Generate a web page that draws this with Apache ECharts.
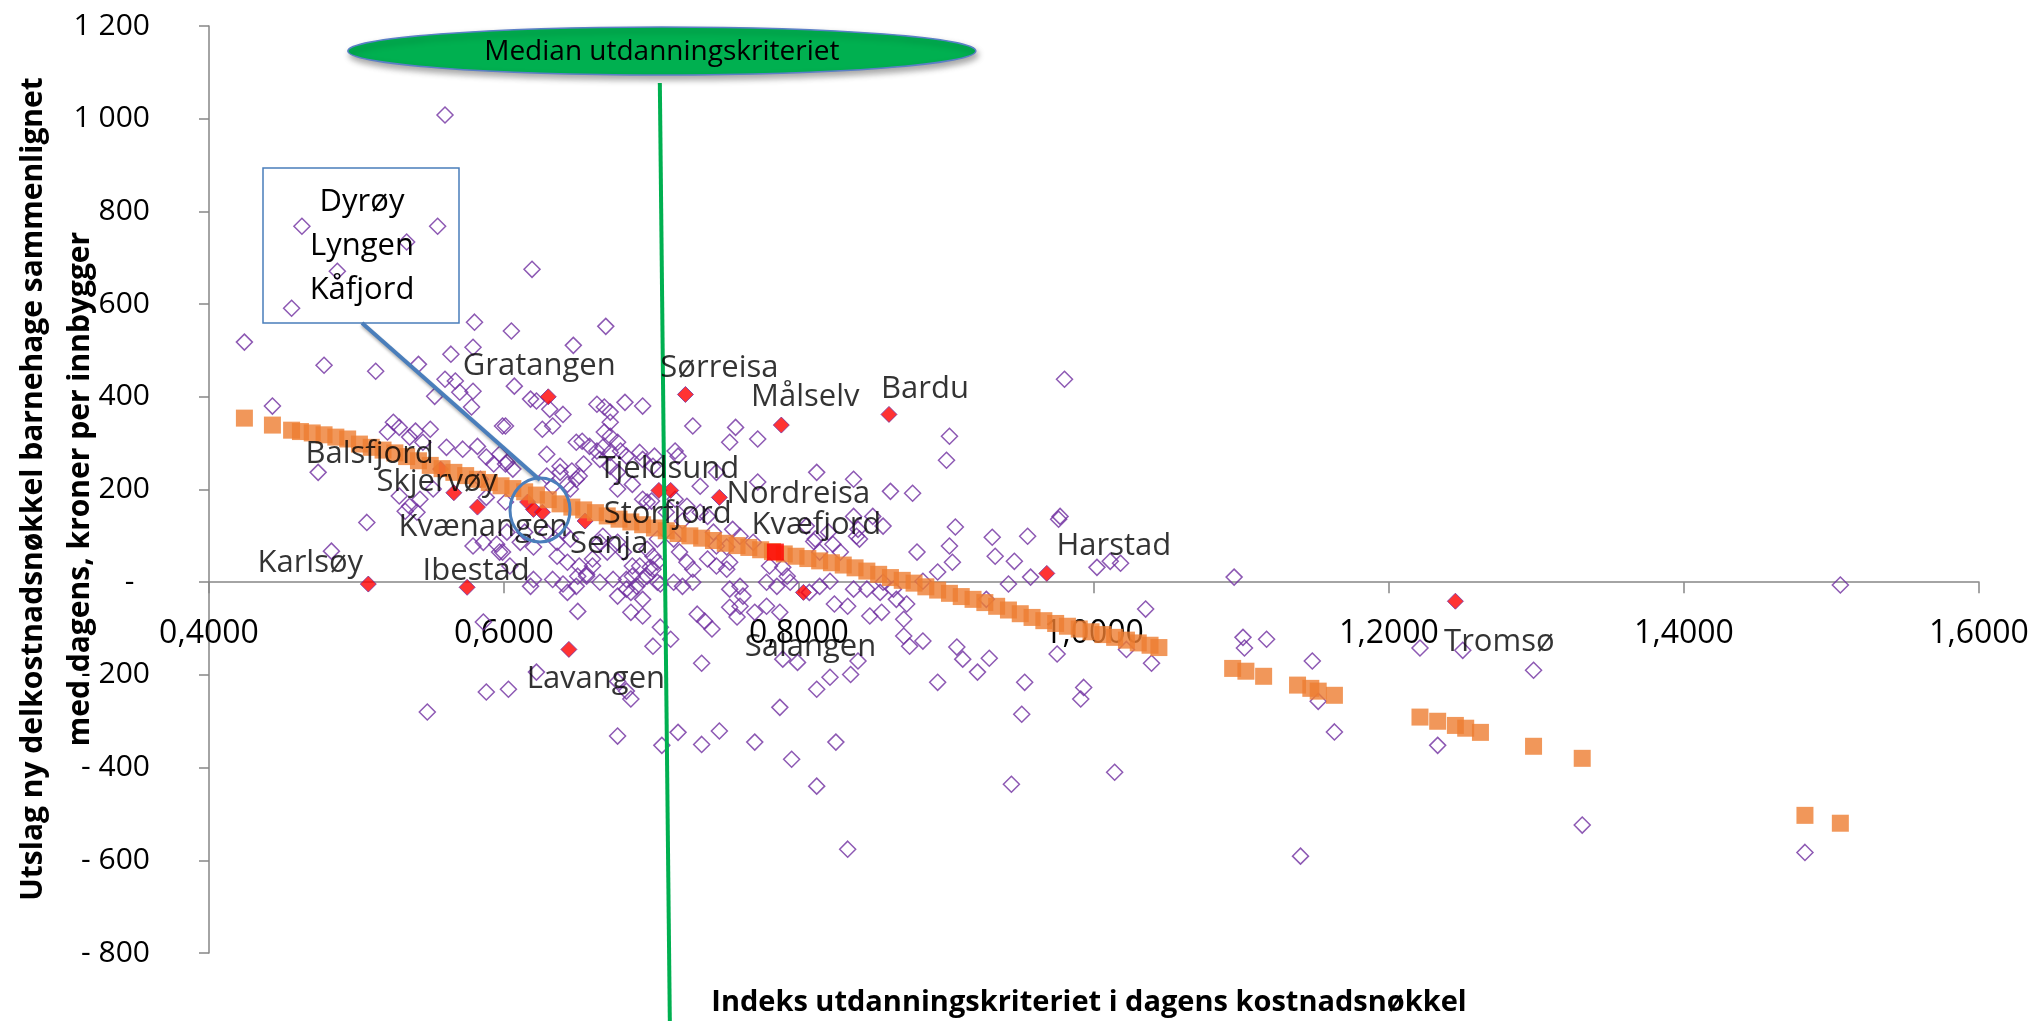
<!DOCTYPE html>
<html>
<head>
<meta charset="utf-8">
<title>Utdanningskriteriet</title>
<script src="https://cdn.jsdelivr.net/npm/echarts@6/dist/echarts.min.js"></script>
<style>
  html, body { margin: 0; padding: 0; background: #fff; }
  #chart { width: 2029px; height: 1021px; }
</style>
</head>
<body>
<div id="chart"></div>
<script>
// alle kommuner: [indeks utdanningskriteriet, utslag kr per innbygger]
const allMunicipalities = [
  [0.560,1008],[0.463,768],[0.555,768],[0.534,734],[0.487,671],[0.619,675],[0.456,591],[0.424,518],[0.580,561],[0.605,542],
  [0.669,552],[0.647,511],[0.579,507],[0.564,492],[0.478,468],[0.513,455],[0.542,470],[0.607,423],[0.560,438],[0.567,434],
  [0.570,410],[0.579,412],[0.553,401],[0.578,378],[0.443,380],[0.622,391],[0.631,373],[0.640,362],[0.663,384],[0.668,378],
  [0.672,367],[0.682,388],[0.694,380],
  [0.626,330],[0.633,337],[0.601,337],[0.629,276],[0.649,302],[0.653,304],[0.658,293],[0.663,283],[0.667,291],[0.672,280],
  [0.677,302],[0.679,283],[0.683,272],[0.601,255],[0.606,244],[0.638,237],[0.646,240],[0.651,229],[0.702,272],[0.643,211],
  [0.687,211],[0.694,179],[0.697,173],[0.700,175],[0.601,173],[0.672,315],[0.692,280],
  [0.728,337],[0.757,334],[0.753,302],[0.772,309],[0.716,283],[0.718,272],[0.744,237],[0.772,216],[0.812,237],[0.837,222],
  [0.862,196],[0.733,207],[0.716,179],[0.724,164],[0.733,151],[0.738,142],[0.710,151],[0.721,132],[0.820,108],[0.823,82],
  [0.805,121],[0.811,93],[0.814,65],[0.841,93],[0.840,114],[0.850,142],[0.857,121],[0.837,142],[0.755,114],[0.760,99],
  [0.769,86],[0.742,108],[0.744,78],[0.751,76],[0.753,43],[0.715,93],[0.719,65],[0.724,43],[0.728,28],[0.738,50],
  [0.744,35],[0.751,28],[0.778,0],[0.785,-9],[0.794,0],[0.792,13],[0.753,-15],[0.760,-9],[0.728,0],[0.715,0],
  [0.721,-9],[0.807,-22],[0.814,-9],[0.857,0],[0.864,-15],[0.837,-15],
  [0.697,71],[0.701,56],[0.704,43],[0.692,35],[0.687,13],[0.697,13],[0.704,0],[0.690,-9],[0.683,-15],[0.665,86],
  [0.670,65],[0.660,35],[0.656,13],[0.665,0],[0.649,-9],[0.602,108],[0.599,65],[0.604,35],[0.618,-9],[0.629,108],
  [0.636,86],[0.620,76],
  [0.474,237],[0.507,129],[0.483,67],[0.525,345],[0.529,334],[0.521,324],[0.536,313],[0.540,326],[0.550,330],[0.545,302],
  [0.561,291],[0.572,287],[0.582,293],[0.588,270],[0.597,276],[0.593,255],[0.602,259],[0.599,337],[0.618,395],
  [0.529,186],[0.536,164],[0.541,151],[0.533,153],[0.543,179],[0.552,201],[0.588,183],[0.584,222],[0.579,78],[0.586,86],
  [0.595,82],[0.597,65],[0.611,86],[0.614,108],[0.620,6],[0.633,6],[0.640,-4],[0.643,-22],[0.650,13],[0.656,17],
  [0.636,56],[0.643,43],[0.651,35],[0.660,50],[0.645,93],[0.640,110],[0.674,6],[0.683,6],[0.687,35],[0.677,-30],
  [0.686,-22],[0.694,-37],[0.650,-63],[0.686,-65],[0.694,-73],[0.701,-138],[0.681,65],[0.701,28],[0.588,-237],[0.603,-231],
  [0.548,-280],[0.622,-194],[0.686,-252],[0.677,-214],[0.683,-235],
  [0.672,345],[0.668,324],[0.665,265],[0.654,255],[0.672,250],[0.677,237],[0.694,265],[0.701,250],[0.629,229],[0.638,250],
  [0.649,222],[0.633,207],[0.645,201],[0.677,201],[0.667,99],[0.677,86],[0.704,93],
  [0.906,119],[0.931,97],[0.955,99],[0.976,136],[0.880,65],[0.902,78],[0.904,43],[0.933,56],[0.946,45],[0.894,22],
  [0.957,11],[0.942,-4],[1.002,32],[0.828,65],[0.810,88],[0.839,99],[0.699,32],[0.694,6],[0.706,-4],[0.780,35],
  [0.789,32],[0.821,2],[0.846,-15],[0.855,-22],[0.866,-37],[0.873,-47],[0.884,2],[0.927,-37],[0.762,-30],[0.760,-52],
  [0.753,-54],[0.770,-65],[0.778,-52],[0.787,-65],[0.758,-75],[0.731,-69],[0.736,-84],[0.741,-101],[0.824,-47],[0.833,-52],
  [0.848,-73],[0.856,-65],[0.871,-80],[0.706,-97],[0.713,-123],[0.871,-116],[0.875,-138],[0.884,-127],[0.789,-166],[0.799,-173],
  [0.840,-170],[0.734,-175],[0.821,-205],[0.835,-199],[0.812,-231],[0.907,-140],[0.911,-166],[0.921,-194],[0.929,-164],[0.894,-216],
  [0.953,-216],[0.975,-155],[0.993,-227],[0.991,-252],[0.951,-285],[0.787,-270],[0.718,-324],[0.746,-321],[0.707,-352],[0.734,-350],
  [0.770,-345],[0.825,-345],[0.795,-382],[0.812,-440],[0.833,-576],[0.944,-436],
  [0.980,438],[0.902,315],[0.900,263],[0.877,192],[0.977,142],[1.011,45],[1.018,41],[1.095,11],[1.035,-58],[1.039,-175],
  [1.101,-119],[1.102,-142],[1.117,-123],[1.022,-145],[1.014,-410],
  [1.506,-6],[1.221,-142],[1.250,-147],[1.148,-170],[1.298,-190],[1.152,-257],[1.163,-323],[1.233,-352],[1.331,-524],[1.482,-583],
  [1.140,-591],[0.586,-86],[0.677,-332]
];

// utslag av utdanningskriteriet alene (oransje)
const criterionEffect = [
  [0.424,354],[0.443,339],[0.456,328],[0.462,325],[0.470,322],[0.478,318],[0.486,313],[0.494,309],[0.502,298],[0.510,291],
  [0.518,285],[0.526,279],[0.534,271],[0.542,262],[0.550,252],[0.558,245],[0.566,237],[0.574,230],[0.582,222],[0.590,215],
  [0.598,208],[0.606,202],[0.614,195],[0.622,188],[0.630,178],[0.638,169],[0.646,162],[0.654,156],[0.662,150],[0.670,143],
  [0.678,136],[0.686,130],[0.694,124],[0.702,117],[0.710,111],[0.718,105],[0.726,100],[0.734,95],[0.742,90],[0.750,84],
  [0.758,79],[0.766,75],[0.774,70],[0.782,66],[0.790,61],[0.798,56],[0.806,51],[0.814,46],[0.822,42],[0.830,37],
  [0.838,31],[0.846,24],[0.854,17],[0.862,10],[0.870,4],[0.878,-2],[0.886,-10],[0.894,-17],[0.902,-24],[0.910,-31],
  [0.918,-37],[0.926,-44],[0.934,-52],[0.942,-60],[0.950,-68],[0.958,-76],[0.966,-83],[0.974,-89],[0.982,-95],[0.990,-101],
  [0.998,-107],[1.006,-113],[1.014,-119],[1.022,-125],[1.030,-131],[1.038,-136],[1.044,-141],
  [1.094,-186],[1.103,-192],[1.115,-203],[1.138,-222],[1.147,-229],[1.152,-235],[1.163,-244],[1.221,-291],[1.233,-300],[1.245,-309],
  [1.252,-315],[1.262,-324],[1.298,-354],[1.331,-380],[1.482,-503],[1.506,-520]
];

// Troms-kommuner (røde)
const tromsNames = ['Karlsøy','Ibestad','Lavangen','Gratangen','Sørreisa','Målselv','Bardu','Tjeldsund','Storfjord',
  'Nordreisa','Salangen','Harstad','Tromsø','Senja','Skjervøy','Kvænangen','Balsfjord','Dyrøy','Lyngen','Kåfjord'];
const tromsValues = [
  [0.508,-4],[0.575,-11],[0.644,-145],[0.630,400],[0.723,405],[0.788,339],[0.861,362],[0.705,198],[0.713,198],
  [0.746,183],[0.803,-22],[0.968,19],[1.245,-41],[0.655,132],[0.566,193],[0.582,162],[0.557,244],[0.616,173],[0.620,157],[0.626,151]
];
const kvaefjordName = 'Kvæfjord';
const kvaefjordValue = [0.784, 65];

const medianIndex = 0.707;
const medianText = 'Median utdanningskriteriet';
const calloutNames = ['Dyrøy', 'Lyngen', 'Kåfjord'];
const yAxisTitle = 'Utslag ny delkostnadsnøkkel barnehage sammenlignet\nmed dagens, kroner per innbygger';
const xAxisTitle = 'Indeks utdanningskriteriet i dagens kostnadsnøkkel';

const Y_MIN = -800;
const Y_MAX = 1200;

// plassering av navnelapper i forhold til punktet (px)
const labelOffset = {
  'Karlsøy': [-58, -21], 'Ibestad': [9, -16], 'Lavangen': [27, 30], 'Gratangen': [-9, -31],
  'Sørreisa': [34, -26], 'Målselv': [24, -28], 'Bardu': [36, -25], 'Tjeldsund': [10, -21],
  'Storfjord': [-3, 24], 'Nordreisa': [79, -3], 'Salangen': [7, 55], 'Harstad': [67, -27],
  'Tromsø': [44, 41], 'Senja': [24, 23], 'Skjervøy': [-17, -11], 'Kvænangen': [6, 20],
  'Balsfjord': [-71, -15], 'Kvæfjord': [41, -27]
};

const FONT = '"Open Sans", "Noto Sans", sans-serif';
const AXIS_GREY = '#868686';
const BLUE = '#4A7EBB';
const GRID = { left: 209, right: 50, top: 26, bottom: 68 };
const gridHeight = 1021 - GRID.top - GRID.bottom;
// x-aksen skal krysse y-aksen i 0
const xAxisOffset = -gridHeight * (0 - Y_MIN) / (Y_MAX - Y_MIN);

function formatY(v) {
  if (v === 0) return '-\u00a0\u00a0';
  const abs = Math.abs(v);
  const s = abs >= 1000 ? Math.floor(abs / 1000) + ' ' + String(abs % 1000).padStart(3, '0') : String(abs);
  return v < 0 ? '- ' + s : s;
}

const chart = echarts.init(document.getElementById('chart'));

const labelData = tromsNames.map((name, i) => ({ name: name, value: tromsValues[i] }))
  .concat([{ name: kvaefjordName, value: kvaefjordValue }])
  .filter(d => labelOffset[d.name])
  .map(d => ({
    name: d.name,
    value: d.value,
    label: { offset: labelOffset[d.name] }
  }));

chart.setOption({
  backgroundColor: '#fff',
  animation: false,
  grid: Object.assign({ containLabel: false, outerBoundsMode: 'none' }, GRID),
  xAxis: {
    type: 'value',
    min: 0.4,
    max: 1.6,
    interval: 0.2,
    offset: xAxisOffset,
    axisLine: { onZero: false, lineStyle: { color: AXIS_GREY, width: 1.5 } },
    axisTick: { show: true, length: 11, lineStyle: { color: AXIS_GREY, width: 1.5 } },
    axisLabel: {
      margin: 36,
      fontSize: 32,
      fontFamily: FONT,
      color: '#000',
      formatter: v => v.toFixed(4).replace('.', ',')
    },
    splitLine: { show: false }
  },
  yAxis: {
    type: 'value',
    min: Y_MIN,
    max: Y_MAX,
    interval: 200,
    axisLine: { show: true, lineStyle: { color: AXIS_GREY, width: 1.5 } },
    axisTick: { show: true, length: 10, lineStyle: { color: AXIS_GREY, width: 1.5 } },
    axisLabel: {
      margin: 59,
      fontSize: 30,
      fontFamily: FONT,
      color: '#000',
      formatter: formatY
    },
    splitLine: { show: false }
  },
  series: [
    {
      name: 'Alle kommuner',
      type: 'scatter',
      z: 2,
      symbol: 'diamond',
      symbolSize: 16,
      itemStyle: { color: 'rgba(0,0,0,0)', borderColor: '#7030A0', borderWidth: 1.5 },
      data: allMunicipalities
    },
    {
      name: 'Troms',
      type: 'scatter',
      z: 3,
      symbol: 'diamond',
      symbolSize: 16,
      itemStyle: { color: '#FF0000', borderColor: '#7030A0', borderWidth: 1 },
      data: tromsNames.map((name, i) => ({ name: name, value: tromsValues[i] }))
    },
    {
      name: 'Utdanningskriteriet',
      type: 'scatter',
      z: 4,
      symbol: 'rect',
      symbolSize: 17,
      itemStyle: { color: '#ED7D31' },
      data: criterionEffect.concat([{ name: kvaefjordName, value: kvaefjordValue, symbolSize: 17, itemStyle: { color: '#FF0000' } }])
    },
    {
      name: 'Navn',
      type: 'scatter',
      z: 6,
      symbolSize: 1,
      itemStyle: { color: 'rgba(0,0,0,0)' },
      label: {
        show: true,
        position: 'inside',
        formatter: '{b}',
        fontSize: 31,
        fontFamily: FONT,
        color: '#000'
      },
      data: labelData
    }
  ]
});

// median-linje, boble, markering og aksetitler
const medianTop = chart.convertToPixel({ xAxisIndex: 0, yAxisIndex: 0 }, [medianIndex, Y_MAX]);
const mx = medianTop[0];

chart.setOption({
  graphic: [
    {
      type: 'line', z: 5,
      shape: { x1: mx - 2, y1: 83, x2: mx + 8, y2: 1021 },
      style: { stroke: '#00B050', lineWidth: 4 }
    },
    {
      type: 'ellipse', z: 7,
      shape: { cx: mx, cy: 51, rx: 314, ry: 24 },
      style: {
        fill: '#00B050', stroke: '#5B7FC7', lineWidth: 1.5,
        shadowBlur: 6, shadowOffsetX: 2, shadowOffsetY: 4, shadowColor: 'rgba(0,0,0,0.35)'
      }
    },
    {
      type: 'text', z: 8,
      x: mx, y: 52,
      style: { text: medianText, fill: '#000', font: '28px ' + FONT, align: 'center', verticalAlign: 'middle' }
    },
    {
      type: 'rect', z: 7,
      shape: { x: 263, y: 168, width: 196, height: 155 },
      style: { fill: 'none', stroke: BLUE, lineWidth: 1.5 }
    },
    {
      type: 'text', z: 8,
      x: 362, y: 246,
      style: {
        text: calloutNames.join('\n'), fill: '#000', font: '31px ' + FONT,
        align: 'center', verticalAlign: 'middle', lineHeight: 44
      }
    },
    {
      type: 'line', z: 7,
      shape: { x1: 362, y1: 323, x2: 540, y2: 480 },
      style: { stroke: BLUE, lineWidth: 4, shadowBlur: 3, shadowOffsetY: 2, shadowColor: 'rgba(0,0,0,0.3)' }
    },
    {
      type: 'ellipse', z: 7,
      shape: { cx: 540, cy: 510, rx: 30, ry: 32 },
      style: { fill: 'none', stroke: BLUE, lineWidth: 3 }
    },
    {
      type: 'text', z: 8,
      x: 1089, y: 1003,
      style: { text: xAxisTitle, fill: '#000', font: 'bold 29px ' + FONT, align: 'center', verticalAlign: 'middle' }
    },
    {
      type: 'text', z: 8,
      x: 57, y: 489,
      rotation: Math.PI / 2,
      style: {
        text: yAxisTitle, fill: '#000', font: 'bold 30px ' + FONT,
        align: 'center', verticalAlign: 'middle', lineHeight: 47
      }
    }
  ]
});

window.addEventListener('resize', function () {
  chart.resize();
});
</script>
</body>
</html>
